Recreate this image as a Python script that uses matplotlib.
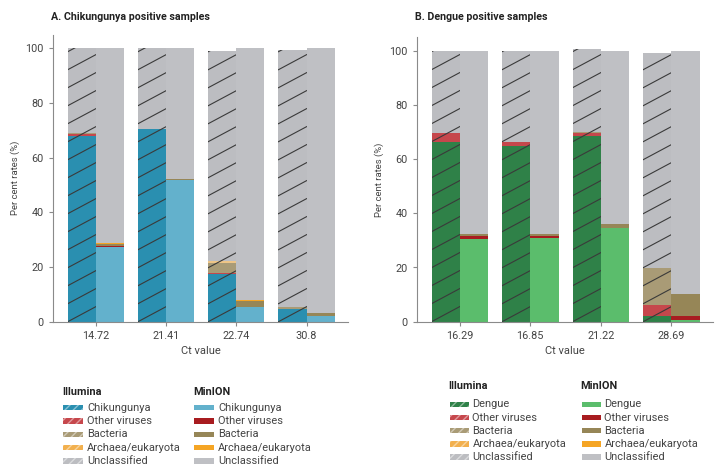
import numpy as np
import matplotlib
matplotlib.use("Agg")
import matplotlib.pyplot as plt
from matplotlib.patches import Rectangle
import matplotlib.colors as mcolors

plt.rcParams['font.family'] = ['Roboto', 'DejaVu Sans']
plt.rcParams['hatch.linewidth'] = 1.0

# Daten Panel A (Chikungunya)
ct_a = ['14.72', '21.41', '22.74', '30.8']
ill_a_target = [68.0, 70.5, 17.4, 4.8]
ill_a_other = [0.5, 0.0, 0.6, 0.0]
ill_a_bact = [0.6, 0.0, 3.4, 0.5]
ill_a_arch = [0.0, 0.0, 0.8, 0.2]
ill_a_uncl = [30.9, 29.5, 76.7, 93.9]
min_a_target = [27.5, 51.8, 5.5, 2.2]
min_a_other = [0.2, 0.0, 0.0, 0.0]
min_a_bact = [0.9, 0.3, 2.2, 0.9]
min_a_arch = [0.1, 0.0, 0.2, 0.2]
min_a_uncl = [71.3, 47.9, 92.1, 96.7]

# Daten Panel B (Dengue)
ct_b = ['16.29', '16.85', '21.22', '28.69']
ill_b_target = [66.4, 64.8, 68.5, 2.2]
ill_b_other = [3.1, 1.6, 1.0, 4.1]
ill_b_bact = [0.0, 0.0, 0.6, 13.6]
ill_b_arch = [0.0, 0.0, 0.0, 0.0]
ill_b_uncl = [30.5, 33.6, 30.6, 79.4]
min_b_target = [30.5, 31.0, 34.7, 0.8]
min_b_other = [1.3, 0.8, 0.0, 1.4]
min_b_bact = [0.5, 0.4, 1.3, 7.9]
min_b_arch = [0.0, 0.0, 0.0, 0.3]
min_b_uncl = [67.7, 67.8, 64.0, 89.6]

cat_names = ['Other viruses', 'Bacteria', 'Archaea/eukaryota', 'Unclassified']

# Farben
ill_cols = ['#c6474c', '#a99b76', '#eec587', '#bcbdc1']
min_cols = ['#a81c20', '#968657', '#f5a524', '#bfc0c4']
leg_ill_cols = ['#c6474c', '#a99b76', '#f2b04e', '#bcbdc1']
col_chik = ('#2a8fb0', '#63b1cc')
col_deng = ('#2f8148', '#5bbd6c')

W, H = 725, 473
fig = plt.figure(figsize=(W / 100, H / 100), dpi=100)

TXT = '#444444'
YMAX = 105


def lighter(c, f=0.45):
    r, g, b = mcolors.to_rgb(c)
    return (r + (1 - r) * f, g + (1 - g) * f, b + (1 - b) * f)


def draw_panel(ax, cts, ill, mini, tcols, title):
    x = np.arange(len(cts))
    w = 0.4
    ax.set_xlim(-0.61, 3.59)
    ax.set_ylim(0, YMAX)

    cols_ill = [tcols[0]] + ill_cols
    cols_min = [tcols[1]] + min_cols
    bottom = np.zeros(len(cts))
    for vals, c in zip(ill, cols_ill):
        ax.bar(x - w / 2, vals, w, bottom=bottom, color=c, linewidth=0)
        bottom = bottom + np.array(vals)
    tops_ill = bottom.copy()
    bottom = np.zeros(len(cts))
    for vals, c in zip(mini, cols_min):
        ax.bar(x + w / 2, vals, w, bottom=bottom, color=c, linewidth=0)
        bottom = bottom + np.array(vals)

    # Schraffur (flache Diagonalen) fuer Illumina-Balken
    bb = ax.get_position()
    ppu_y = bb.height * H / YMAX
    ppu_x = bb.width * W / (ax.get_xlim()[1] - ax.get_xlim()[0])
    sp = 18 / ppu_y
    rise = 0.535 * ppu_x / ppu_y
    for xi, top in zip(x, tops_ill):
        left = xi - w
        clip = Rectangle((left, 0), w, top, transform=ax.transData)
        for k in range(-2, 20):
            y0 = k * sp
            ln, = ax.plot([left, left + w], [y0, y0 + rise * w],
                          color='#3a3a3a', lw=0.8)
            ln.set_clip_path(clip)

    for s in ['top', 'right']:
        ax.spines[s].set_visible(False)
    for s in ['left', 'bottom']:
        ax.spines[s].set_color('#8a8a8a')
        ax.spines[s].set_linewidth(0.8)
    ax.set_xticks(x)
    ax.set_xticklabels(cts)
    ax.set_yticks([0, 20, 40, 60, 80, 100])
    ax.tick_params(colors='#8a8a8a', labelcolor=TXT, labelsize=7.8,
                   length=3, width=0.8)
    ax.set_xlabel('Ct value', fontsize=8, color=TXT, labelpad=4)
    ax.set_ylabel('Per cent rates (%)', fontsize=6.8, color=TXT, labelpad=4)
    fig.text(bb.x0 - 2 / W, 1 - 17 / H, title, fontsize=7.7, fontweight='bold',
             color='#222222', va='center', ha='left')


ax1 = fig.add_axes([53 / W, 1 - 321.7 / H, 295 / W, YMAX * 2.733 / H])
ax2 = fig.add_axes([416.7 / W, 1 - 321.7 / H, 296.3 / W, YMAX * 2.71 / H])

draw_panel(ax1, ct_a,
           [ill_a_target, ill_a_other, ill_a_bact, ill_a_arch, ill_a_uncl],
           [min_a_target, min_a_other, min_a_bact, min_a_arch, min_a_uncl],
           col_chik, 'A. Chikungunya positive samples')
draw_panel(ax2, ct_b,
           [ill_b_target, ill_b_other, ill_b_bact, ill_b_arch, ill_b_uncl],
           [min_b_target, min_b_other, min_b_bact, min_b_arch, min_b_uncl],
           col_deng, 'B. Dengue positive samples')


def add_legend(name, target, tcol, cols, hatched, x0, y_title, y_first, step, pw):
    # Legende von Hand: Titel, Farbfelder und Texte in Pixelkoordinaten
    fig.text(x0 / W, 1 - y_title / H, name, fontsize=7.8, fontweight='bold',
             color='#222222', va='center', ha='left')
    labels = [target] + cat_names
    colors = [tcol] + cols
    for i, (lab, c) in enumerate(zip(labels, colors)):
        yc = y_first + i * step
        if hatched:
            r = Rectangle(((x0 + 1) / W, 1 - (yc + 2.7) / H), pw / W, 5.4 / H,
                          transform=fig.transFigure, facecolor=c,
                          edgecolor=lighter(c), hatch='////', lw=0)
        else:
            r = Rectangle(((x0 + 1) / W, 1 - (yc + 2.7) / H), pw / W, 5.4 / H,
                          transform=fig.transFigure, facecolor=c,
                          edgecolor='none', lw=0)
        fig.add_artist(r)
        fig.text((x0 + pw + 5) / W, 1 - yc / H, lab, fontsize=7.9,
                 color=TXT, va='center', ha='left')


add_legend('Illumina', 'Chikungunya', col_chik[0], leg_ill_cols, True, 62, 392.3, 407.7, 13.3, 20)
add_legend('MinION', 'Chikungunya', col_chik[1], min_cols, False, 193, 392.3, 407.7, 13.3, 20)
add_legend('Illumina', 'Dengue', col_deng[0], leg_ill_cols, True, 448.5, 386, 404.3, 13.2, 19)
add_legend('MinION', 'Dengue', col_deng[1], min_cols, False, 580.5, 386, 404.3, 13.2, 19)

fig.savefig('out.png', dpi=100)
